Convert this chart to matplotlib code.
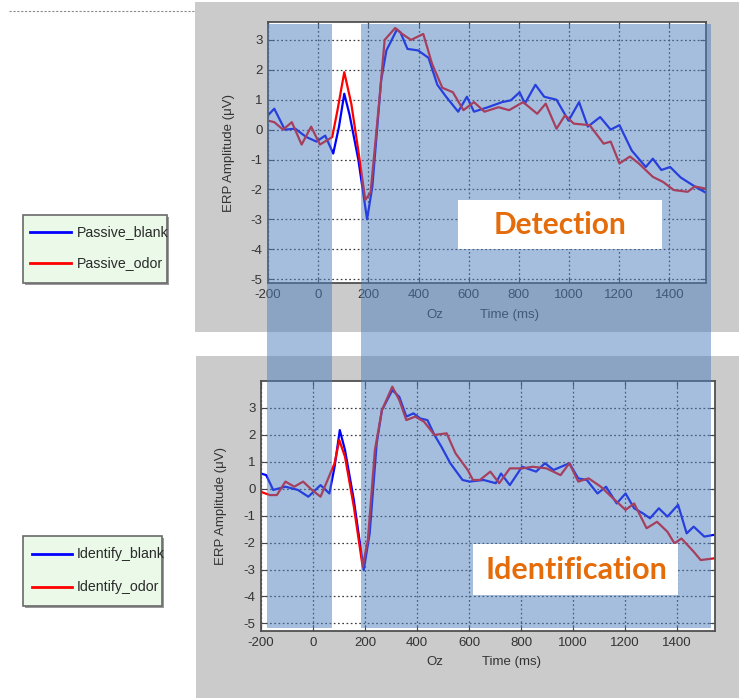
import matplotlib
matplotlib.use("Agg")
import matplotlib.pyplot as plt
from matplotlib.patches import Rectangle
from matplotlib.lines import Line2D

# ---------------- data ----------------
t_pb = [-200, -175, -133, -91, -49, -7, 28, 60, 83, 104, 125, 160, 195, 216, 251, 272, 293, 314, 328,
        356, 398, 440, 475, 510, 558, 593, 621, 677, 733, 768, 803, 824, 866, 901, 950, 998, 1040,
        1075, 1124, 1166, 1201, 1250, 1306, 1334, 1368, 1403, 1445, 1501, 1543]
v_pb = [0.48, 0.7, 0.0, 0.03, -0.24, -0.4, -0.2, -0.8, 0.1, 1.2, 0.5, -1.0, -3.0, -1.9, 1.65, 2.65, 3.0,
        3.35, 3.25, 2.7, 2.65, 2.4, 1.5, 1.1, 0.6, 1.1, 0.6, 0.75, 0.92, 0.98, 1.25, 0.87, 1.5, 1.1, 1.0,
        0.3, 0.92, 0.1, 0.42, 0.0, 0.15, -0.7, -1.25, -0.97, -1.35, -1.25, -1.6, -1.9, -2.1]

t_po = [-200, -175, -140, -105, -66, -28, 7, 56, 77, 104, 132, 160, 188, 209, 244, 265, 307, 335, 370,
        419, 454, 495, 537, 579, 621, 663, 719, 761, 817, 873, 907, 950, 984, 1019, 1082, 1138, 1166,
        1201, 1243, 1278, 1334, 1375, 1417, 1473, 1501, 1543]
v_po = [0.3, 0.25, 0.0, 0.25, -0.5, 0.1, -0.5, -0.25, 0.65, 1.92, 0.87, -0.7, -2.35, -2.1, 1.0, 3.0, 3.4,
        3.2, 3.0, 3.2, 2.2, 1.4, 1.25, 0.65, 0.92, 0.6, 0.75, 0.65, 0.92, 0.53, 0.87, 0.03, 0.48, 0.2,
        0.15, -0.47, -0.4, -1.13, -0.9, -1.13, -1.58, -1.75, -2.02, -2.08, -1.9, -1.97]

t_ib = [-200, -180, -153, -106, -58, -18, 29, 63, 83, 103, 123, 157, 195, 218, 245, 265, 305, 332, 359,
        386, 413, 440, 467, 494, 528, 575, 602, 656, 703, 723, 757, 804, 858, 892, 925, 986, 1020, 1053,
        1094, 1127, 1168, 1202, 1235, 1269, 1296, 1330, 1363, 1404, 1437, 1464, 1505, 1539]
v_ib = [0.56, 0.5, -0.05, 0.07, -0.05, -0.3, 0.13, -0.18, 0.81, 2.17, 1.43, -0.42, -3.02, -1.66, 1.68,
        2.91, 3.65, 3.4, 2.67, 2.79, 2.6, 2.54, 1.99, 1.55, 0.94, 0.32, 0.26, 0.32, 0.2, 0.56, 0.13, 0.81,
        0.63, 0.94, 0.69, 0.94, 0.38, 0.32, -0.18, 0.07, -0.55, -0.18, -0.73, -0.92, -1.1, -0.73, -1.04,
        -0.6, -1.66, -1.41, -1.78, -1.72]

t_io = [-200, -166, -139, -106, -72, -38, -4, 29, 56, 83, 101, 123, 157, 191, 211, 238, 265, 305, 332,
        359, 393, 427, 467, 514, 548, 595, 615, 642, 682, 716, 757, 804, 845, 898, 952, 986, 1020, 1060,
        1107, 1154, 1202, 1235, 1283, 1323, 1363, 1390, 1417, 1464, 1491, 1539]
v_io = [-0.12, -0.24, -0.24, 0.26, 0.07, 0.26, -0.05, -0.3, 0.32, 0.94, 1.8, 1.18, -0.67, -2.9, -1.9,
        1.43, 2.91, 3.78, 3.28, 2.54, 2.67, 2.48, 1.99, 2.05, 1.31, 0.69, 0.32, 0.32, 0.63, 0.2, 0.75,
        0.75, 0.81, 0.75, 0.5, 0.94, 0.26, 0.38, 0.07, -0.36, -0.79, -0.55, -1.47, -1.23, -1.6, -2.03,
        -1.85, -2.34, -2.65, -2.59]

xticks = [-200, 0, 200, 400, 600, 800, 1000, 1200, 1400]
yticks = [-5, -4, -3, -2, -1, 0, 1, 2, 3]
labels_top = ["Passive_blank", "Passive_odor"]
labels_bot = ["Identify_blank", "Identify_odor"]
titles = ["Detection", "Identification"]

# ---------------- layout helpers ----------------
W, H = 739, 698
plt.rcParams['font.family'] = ['Liberation Sans', 'DejaVu Sans']
plt.rcParams['axes.unicode_minus'] = False
fig = plt.figure(figsize=(W / 100, H / 100), dpi=100)
fig.patch.set_facecolor('white')


def fx(p):
    return p / W


def fy(p):
    return 1 - p / H


def frect(x0, y0, x1, y1, **kw):
    r = Rectangle((fx(x0), fy(y1)), fx(x1) - fx(x0), fy(y0) - fy(y1),
                  transform=fig.transFigure, **kw)
    fig.add_artist(r)
    return r


# gray panels
frect(195, 2, 739, 332, facecolor='#cbcbcb', edgecolor='none', zorder=0.1)
frect(196, 356, 739, 698, facecolor='#cbcbcb', edgecolor='none', zorder=0.1)
fig.add_artist(Line2D([fx(9), fx(195)], [fy(11), fy(11)], transform=fig.transFigure,
                      ls=(0, (2, 1.5)), color='#8a8a8a', lw=0.8, zorder=0.2))

tick_col = '#333333'


def make_ax(box, ylim, tb, vb, to, vo):
    l, r, t, b = box
    ax = fig.add_axes([fx(l), fy(b), fx(r) - fx(l), fy(t) - fy(b)], zorder=1)
    ax.set_facecolor('white')
    ax.plot(tb, vb, color='#0000ff', lw=1.6)
    ax.plot(to, vo, color='#ff0000', lw=1.6)
    ax.set_xlim(-200, 1546)
    ax.set_ylim(*ylim)
    ax.set_xticks(xticks)
    ax.set_yticks(yticks)
    ax.grid(True, ls=(0, (1.4, 2.0)), color='#404040', lw=0.9)
    ax.tick_params(direction='in', length=4, top=True, right=True, colors='#444444',
                   labelcolor=tick_col, labelsize=9.5, pad=4)
    for s in ax.spines.values():
        s.set_color('#505050')
        s.set_linewidth(1.3)
    ax.set_ylabel("ERP Amplitude (\u03bcV)", fontsize=9.5, color=tick_col)
    ax.yaxis.set_label_coords(-0.075, 0.5)
    return ax


ax1 = make_ax((268, 706, 22, 283), (-5.13, 3.6), t_pb, v_pb, t_po, v_po)
ax2 = make_ax((261, 715, 381, 631), (-5.28, 3.99), t_ib, v_ib, t_io, v_io)

# x label texts
for y in (315, 662):
    fig.text(fx(435), fy(y), "Oz", ha='center', va='center', fontsize=9.5, color=tick_col)
for x, y in ((510, 315), (512, 662)):
    fig.text(fx(x), fy(y), "Time (ms)", ha='center', va='center', fontsize=9.5, color=tick_col)

# translucent blue bands (overlay)
band_col = '#4f7fbd'
frect(267, 24, 332, 628, facecolor=band_col, alpha=0.5, edgecolor='none', zorder=5)
frect(361, 24, 711, 628, facecolor=band_col, alpha=0.5, edgecolor='none', zorder=5)

# labels boxes
frect(458, 200, 662, 249, facecolor='white', edgecolor='none', zorder=6)
fig.text(fx(560), fy(225), titles[0], ha='center', va='center', fontsize=21.5,
         fontweight='bold', color='#e46c0a', family=['Lato', 'DejaVu Sans'], zorder=7)
frect(473, 544, 678, 595, facecolor='white', edgecolor='none', zorder=6)
fig.text(fx(576), fy(570), titles[1], ha='center', va='center', fontsize=22,
         fontweight='bold', color='#e46c0a', family=['Lato', 'DejaVu Sans'], zorder=7)


# legends
def legend(box, ys, x_line, labels):
    x0, y0, x1, y1 = box
    frect(x0 + 1.5, y0 + 1.5, x1 + 1.5, y1 + 1.5, facecolor='#9a9a9a', edgecolor='none', zorder=6)
    frect(x0, y0, x1, y1, facecolor='#eaf9e8', edgecolor='#6a6a6a', lw=1.2, zorder=6.1)
    for yy, col, lab in zip(ys, ['#0000ff', '#ff0000'], labels):
        fig.add_artist(Line2D([fx(x_line[0]), fx(x_line[1])], [fy(yy), fy(yy)],
                              transform=fig.transFigure, color=col, lw=2.0, zorder=6.2))
        fig.text(fx(77), fy(yy), lab, ha='left', va='center', fontsize=10.2,
                 color='#2a2a2a', zorder=6.3)


legend((23, 215, 167, 283), (232, 263), (30, 71), labels_top)
legend((23, 536, 162, 606), (554, 587), (32, 72), labels_bot)

fig.savefig("out.png", dpi=100)
